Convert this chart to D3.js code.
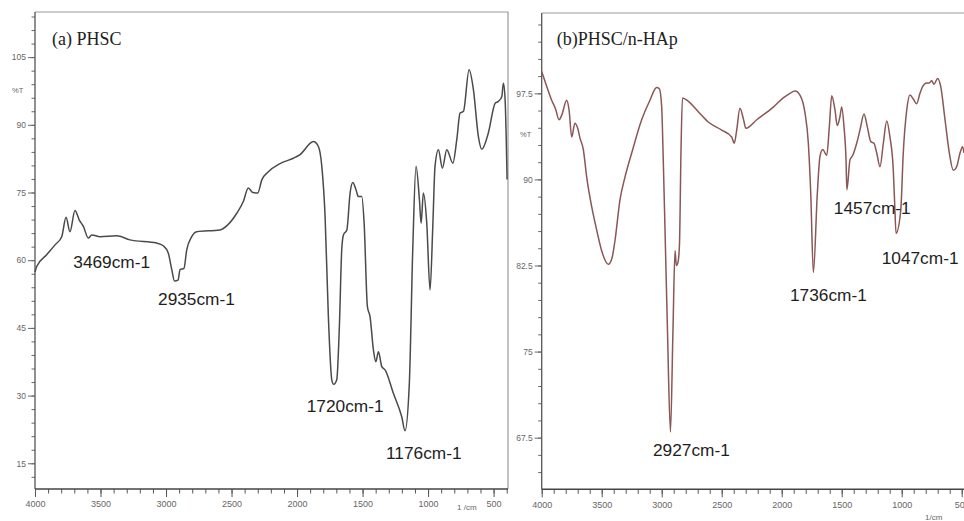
<!DOCTYPE html>
<html>
<head>
<meta charset="utf-8">
<script src="https://cdn.jsdelivr.net/npm/d3@7"></script>
<style>
  html, body { margin: 0; padding: 0; background: #fff; }
  svg { display: block; }
  .tick text { font-family: "Liberation Sans", Arial, sans-serif; fill: #666; }
</style>
</head>
<body>
<svg id="chart" width="964" height="521"></svg>
<script>
// ---- FTIR spectrum of PHSC (wavenumber, cm-1 / transmittance, %T) ----
const phscWavenumber = [4000, 3987, 3911, 3847, 3796, 3763, 3733, 3695, 3662, 3631, 3593, 3567, 3504, 3376, 3275, 3071, 3021, 2983, 2956, 2935, 2908, 2893, 2863, 2842, 2804, 2766, 2588, 2537, 2460, 2410, 2372, 2338, 2300, 2269, 2219, 2130, 2028, 1977, 1875, 1837, 1811, 1786, 1761, 1735, 1720, 1697, 1677, 1659, 1646, 1620, 1595, 1575, 1550, 1532, 1506, 1488, 1463, 1443, 1417, 1399, 1379, 1353, 1328, 1265, 1201, 1176, 1143, 1117, 1092, 1066, 1053, 1036, 1010, 985, 964, 947, 921, 891, 857, 811, 781, 756, 730, 687, 654, 616, 590, 540, 488, 463, 437, 425, 412, 397];
const phscTransmittance = [57.4, 58.6, 61.2, 63.4, 65.2, 69.5, 66.3, 71.0, 68.9, 67.5, 64.9, 65.6, 65.2, 65.4, 64.5, 63.8, 63.2, 61.6, 57.9, 55.4, 55.6, 57.9, 58.2, 62.3, 65.2, 66.3, 66.7, 67.6, 70.4, 73.0, 76.0, 75.0, 74.9, 77.8, 79.6, 81.4, 82.6, 83.4, 86.3, 85.2, 80.8, 69.7, 47.5, 33.5, 32.5, 33.5, 45.3, 62.3, 65.6, 66.7, 74.9, 77.2, 75.6, 74.1, 74.1, 68.2, 49.7, 47.5, 40.1, 37.5, 39.7, 36.4, 35.7, 30.5, 25.3, 22.2, 32.7, 62.3, 80.8, 73.4, 68.2, 74.9, 68.2, 53.4, 67.5, 80.8, 84.5, 80.4, 84.5, 81.5, 86.7, 92.6, 93.0, 102.2, 97.8, 87.4, 84.6, 88.2, 94.8, 95.2, 96.3, 99.2, 95.5, 77.9];

// ---- FTIR spectrum of PHSC/n-HAp ----
const hapWavenumber = [4000, 3958, 3917, 3883, 3856, 3833, 3792, 3772, 3750, 3723, 3700, 3681, 3653, 3625, 3583, 3542, 3498, 3445, 3414, 3389, 3348, 3306, 3250, 3167, 3098, 3042, 3020, 3000, 2987, 2973, 2952, 2927, 2906, 2889, 2878, 2864, 2852, 2839, 2827, 2778, 2695, 2612, 2500, 2417, 2395, 2375, 2348, 2320, 2298, 2208, 2070, 1987, 1931, 1889, 1848, 1806, 1778, 1758, 1736, 1703, 1681, 1658, 1625, 1603, 1583, 1556, 1537, 1514, 1500, 1481, 1464, 1457, 1431, 1408, 1375, 1348, 1314, 1287, 1258, 1231, 1208, 1181, 1153, 1125, 1098, 1070, 1058, 1047, 1008, 987, 958, 931, 903, 875, 848, 825, 792, 770, 750, 731, 700, 675, 639, 603, 570, 542, 514, 492, 481];
const hapTransmittance = [99.4, 98.1, 96.9, 96.1, 95.2, 95.6, 96.9, 96.05, 93.7, 94.9, 94.45, 93.6, 92.6, 90.2, 87.6, 85.6, 83.7, 82.6, 83.15, 84.7, 88.2, 90.2, 92.3, 95.2, 96.9, 98.0, 97.9, 96.3, 91.7, 85.9, 76.9, 68.0, 76.9, 83.8, 82.5, 82.8, 84.3, 92.6, 97.1, 96.8, 95.9, 95.0, 94.3, 93.7, 93.15, 94.3, 96.2, 95.3, 94.45, 95.2, 96.3, 97.1, 97.5, 97.7, 97.35, 95.8, 93.15, 88.8, 81.9, 88.8, 92.0, 92.6, 92.1, 94.6, 97.3, 96.05, 94.7, 95.5, 96.3, 94.6, 91.7, 89.1, 91.7, 92.1, 93.15, 94.3, 95.7, 94.6, 93.3, 93.15, 92.3, 91.1, 93.15, 95.1, 93.7, 90.8, 87.75, 85.3, 87.3, 92.3, 96.05, 97.35, 97.0, 96.6, 97.5, 98.1, 98.4, 98.4, 98.6, 98.3, 98.8, 98.1, 95.2, 92.3, 90.8, 91.1, 92.3, 92.85, 92.3];

// ---- tick values ----
const xMajorTicks = [4000, 3500, 3000, 2500, 2000, 1500, 1000, 500];
const xMinorTicks = d3.range(4000, 399, -100);
const phscYTicks = [15, 30, 45, 60, 75, 90, 105];
const phscYMinor = d3.range(12, 115, 3);
const hapYTicks = [67.5, 75, 82.5, 90, 97.5];
const hapYMinor = d3.range(64.5, 104.5, 1.5);

// ---- peak annotations ----
const phscPeaks = [3469, 2935, 1720, 1176];
const hapPeaks = [2927, 1736, 1457, 1047];

const svg = d3.select("#chart");

function valueAt(wn, wns, vals) {
  for (let i = 0; i < wns.length - 1; i++) {
    if (wn <= wns[i] && wn >= wns[i + 1]) {
      const t = (wns[i] - wn) / (wns[i] - wns[i + 1]);
      return vals[i] + t * (vals[i + 1] - vals[i]);
    }
  }
  return vals[vals.length - 1];
}

function drawPanel(p) {
  const g = svg.append("g");
  const x = d3.scaleLinear().domain(p.xDomain).range(p.xRange);
  const y = d3.scaleLinear().domain(p.yDomain).range(p.yRange);
  const [x0, x1] = p.xRange;
  const [yb, yt] = p.yRange;

  // frame
  g.append("path")
    .attr("d", p.rightFrame
      ? `M${x0},${yt}H${x1}V${yb}`
      : `M${x0},${yt}H${x1 + 2}`)
    .attr("fill", "none").attr("stroke", "#9a9a9a").attr("stroke-width", 1.2);

  // minor y ticks
  g.append("g").attr("transform", `translate(${x0},0)`)
    .call(d3.axisLeft(y).tickValues(p.yMinor).tickSize(3.5).tickFormat(""))
    .call(a => a.select(".domain").remove())
    .selectAll("line").attr("stroke", "#666");
  // major y ticks
  const ya = g.append("g").attr("transform", `translate(${x0},0)`)
    .call(d3.axisLeft(y).tickValues(p.yTicks).tickSize(7).tickPadding(2)
      .tickFormat(d3.format("~g")));
  ya.select(".domain").attr("d", `M0,${yb}V${yt}`).attr("stroke", "#555").attr("stroke-width", 1.3);
  ya.selectAll("line").attr("stroke", "#666");
  ya.selectAll("text").style("font-size", "8.5px");

  // minor x ticks
  g.append("g").attr("transform", `translate(0,${yb})`)
    .call(d3.axisBottom(x).tickValues(xMinorTicks.filter(v => v >= Math.min(...p.xDomain))).tickSize(4.5).tickFormat(""))
    .call(a => a.select(".domain").remove())
    .selectAll("line").attr("stroke", "#555");
  // major x ticks
  const xa = g.append("g").attr("transform", `translate(0,${yb})`)
    .call(d3.axisBottom(x).tickValues(xMajorTicks).tickSize(8).tickPadding(4).tickFormat(d3.format("d")));
  xa.select(".domain").attr("d", `M${x0},0H${x1}`).attr("stroke", "#444").attr("stroke-width", 1.5);
  xa.selectAll("line").attr("stroke", "#555");
  xa.selectAll("text").style("font-size", "9px");

  // axis captions
  g.append("text").attr("x", p.pctT[0]).attr("y", p.pctT[1])
    .attr("font-family", "Liberation Sans, Arial, sans-serif").attr("font-size", 7.5)
    .attr("fill", "#666").text("%T");
  g.append("text").attr("x", p.unit[0]).attr("y", p.unit[1])
    .attr("font-family", "Liberation Sans, Arial, sans-serif").attr("font-size", 8)
    .attr("fill", "#666").text(p.unitText);

  // spectrum
  const pts = p.wn.map((w, i) => [w, p.t[i]]);
  g.append("path").datum(pts)
    .attr("fill", "none").attr("stroke", p.color).attr("stroke-width", 1.5)
    .attr("stroke-linejoin", "round")
    .attr("d", d3.line().x(d => x(d[0])).y(d => y(d[1])).curve(d3.curveMonotoneX));

  // panel title
  g.append("text").attr("x", p.title[0]).attr("y", p.title[1])
    .attr("font-family", "Liberation Serif, Times New Roman, serif").attr("font-size", 18)
    .attr("fill", "#222").text(p.titleText);

  // peak labels
  p.peaks.forEach((wn, i) => {
    const ax = x(wn), ay = y(valueAt(wn, p.wn, p.t));
    g.append("text").attr("x", ax + p.labelOffsets[i][0]).attr("y", ay + p.labelOffsets[i][1])
      .attr("font-family", "Liberation Sans, Arial, sans-serif").attr("font-size", 17.3)
      .attr("fill", "#1e1e1e").text(wn + "cm-1");
  });
}

drawPanel({
  xDomain: [4000, 390], xRange: [35, 508],
  yDomain: [9.3, 115], yRange: [489, 12],
  yTicks: phscYTicks, yMinor: phscYMinor,
  wn: phscWavenumber, t: phscTransmittance,
  color: "#4a4a4a", rightFrame: true,
  title: [52, 45], titleText: "(a) PHSC",
  pctT: [12, 93], unit: [457, 510], unitText: "1 /cm",
  peaks: phscPeaks,
  labelOffsets: [[-31.3, 31.5], [-16.5, 24.4], [-27, 28], [-19, 28]]
});

drawPanel({
  xDomain: [4000, 480], xRange: [541.7, 964.1],
  yDomain: [63, 104.5], yRange: [489.3, 13],
  yTicks: hapYTicks, yMinor: hapYMinor,
  wn: hapWavenumber, t: hapTransmittance,
  color: "#8a5656", rightFrame: false,
  title: [556.7, 45], titleText: "(b)PHSC/n-HAp",
  pctT: [520, 137], unit: [925, 520], unitText: "1/cm",
  peaks: hapPeaks,
  labelOffsets: [[-17.5, 24], [-23.4, 28.5], [-13, 24], [-14.4, 31]]
});
</script>
</body>
</html>
